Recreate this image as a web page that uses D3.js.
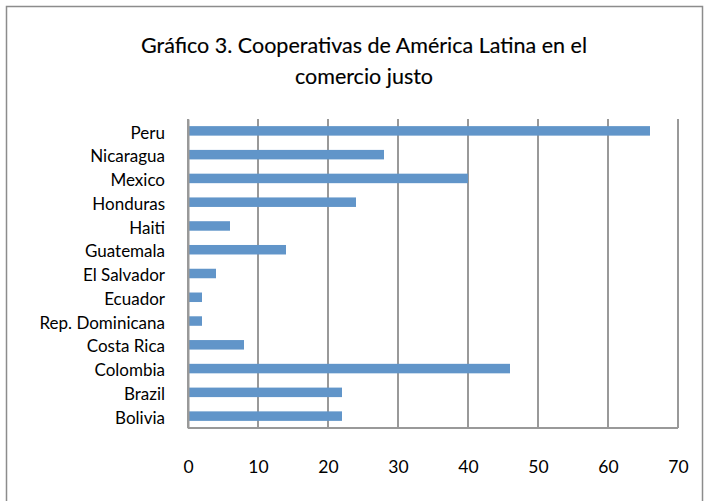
<!DOCTYPE html>
<html><head><meta charset="utf-8">
<script src="https://cdn.jsdelivr.net/npm/d3@7"></script>
<style>body{margin:0;background:#fff}svg{display:block}</style>
</head><body>
<script>
const categories = ["Peru","Nicaragua","Mexico","Honduras","Haiti","Guatemala","El Salvador","Ecuador","Rep. Dominicana","Costa Rica","Colombia","Brazil","Bolivia"];
const values = [66,28,40,24,6,14,4,2,2,8,46,22,22];
const xTicks = [0,10,20,30,40,50,60,70];
const titleLines = ["Gráfico 3. Cooperativas de América Latina en el","comercio justo"];

const W = 710, H = 501;
const svg = d3.select("body").append("svg").attr("width", W).attr("height", H);
svg.append("rect").attr("x",6.5).attr("y",6.5).attr("width",696).attr("height",H)
  .attr("fill","#fff").attr("stroke","#8c8c8c").attr("stroke-width",1.5);

const font = "Lato, 'Noto Sans', sans-serif";
svg.append("text").attr("text-anchor","middle").attr("font-family",font)
  .attr("font-size",21.5).attr("fill","#000").attr("stroke","#000").attr("stroke-width",0.15)
  .selectAll("tspan").data(titleLines).join("tspan")
  .attr("x",364).attr("y",(d,i)=>53+i*31).text(d=>d);

const m = {left:188, right:678, top:119, bottom:428};
const x = d3.scaleLinear().domain([0,70]).range([m.left,m.right]);
const y = d3.scaleBand().domain(categories).range([m.top,m.bottom]).paddingInner(0.6).paddingOuter(0.3);

// gridlines
svg.append("g").selectAll("line").data(xTicks).join("line")
  .attr("x1",d=>x(d)).attr("x2",d=>x(d)).attr("y1",m.top).attr("y2",m.bottom)
  .attr("stroke","#999").attr("stroke-width",2);
// bottom axis line
svg.append("line").attr("x1",m.left).attr("x2",m.right).attr("y1",m.bottom).attr("y2",m.bottom)
  .attr("stroke","#999").attr("stroke-width",2);

// bars
svg.append("g").selectAll("rect").data(categories).join("rect")
  .attr("x",x(0)+1).attr("y",d=>y(d)).attr("height",y.bandwidth())
  .attr("width",(d,i)=>x(values[i])-x(0)-1).attr("fill","#6195c9");

// y axis
const yAxis = svg.append("g").attr("transform",`translate(${m.left},0)`)
  .call(d3.axisLeft(y).tickSize(0).tickPadding(23));
yAxis.select(".domain").attr("stroke","#999").attr("stroke-width",2);
yAxis.selectAll("text").attr("font-family",font).attr("font-size",17).attr("dy","0.45em")
  .attr("fill","#000");

// x axis labels
const xAxis = svg.append("g").attr("transform",`translate(0,${m.bottom})`)
  .call(d3.axisBottom(x).tickValues(xTicks).tickSize(0).tickPadding(33));
xAxis.select(".domain").remove();
xAxis.selectAll("text").attr("font-family",font).attr("font-size",17.5)
  .attr("fill","#000");
</script>
</body></html>
